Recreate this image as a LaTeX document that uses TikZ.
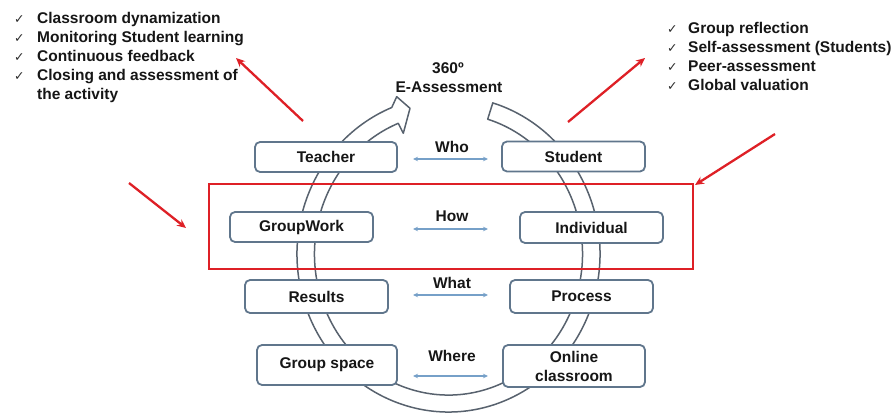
\documentclass[tikz,border=0pt]{standalone}
\usepackage{fontspec}
\setmainfont{Liberation Sans}
\newfontfamily\symfont{DejaVu Sans}
\usetikzlibrary{arrows.meta}
\definecolor{boxline}{RGB}{96,118,140}
\definecolor{ringline}{RGB}{88,98,110}
\definecolor{linkblue}{RGB}{118,160,200}
\definecolor{alertred}{RGB}{222,32,38}
\definecolor{ink}{RGB}{22,22,22}
\definecolor{tick}{RGB}{45,45,45}

\begin{document}
\begin{tikzpicture}[x=1pt,y=1pt,
  every node/.style={inner sep=0pt, text=ink},
  lbl/.style={font=\fontsize{15.5}{19}\selectfont\bfseries},
  tickmark/.style={font=\fontsize{12.5}{14}\selectfont\symfont, text=tick},
  card/.style={draw=boxline, fill=white, line width=1.8pt, rounded corners=5pt,
    align=center, font=\fontsize{15.5}{19}\selectfont\bfseries},
  ring/.style={draw=ringline, fill=white, line width=1.5pt, line join=round},
  link/.style={draw=linkblue, line width=1.3pt,
    {Stealth[length=5pt,width=4.5pt]}-{Stealth[length=5pt,width=4.5pt]}},
  pointer/.style={draw=alertred, line width=2.3pt, -{Stealth[length=9pt,width=8pt]}},
]
\useasboundingbox (0,0) rectangle (894,-414);

% circular arrow around the cards
\draw[ring] (448.5,-254) ++(73:151.5pt and 158pt)
  arc[start angle=73, end angle=-248, x radius=151.5pt, y radius=158pt]
  -- (396.7,-96.7) -- (410,-108.3) -- (403.3,-133.3) -- (398.3,-123.3)
  arc[start angle=-248, end angle=73, x radius=134pt, y radius=141pt]
  -- cycle;

% title
\node[lbl, anchor=base] (deg) at (448,-74) {360º};
\node[lbl, anchor=base] (eassess) at (449,-93) {E-Assessment};

% cards
\node[card, minimum width=142pt, minimum height=30pt] (teacher) at (326,-157) {Teacher};
\node[card, minimum width=143pt, minimum height=30pt] (student) at (573.5,-156.5) {Student};
\node[card, minimum width=143pt, minimum height=30pt] (groupwork) at (301.5,-227) {GroupWork};
\node[card, minimum width=143pt, minimum height=31pt] (individual) at (591.5,-227.5) {Individual};
\node[card, minimum width=143pt, minimum height=33pt] (results) at (316.5,-296.5) {Results};
\node[card, minimum width=143pt, minimum height=33pt] (process) at (581.5,-296.5) {Process};
\node[card, minimum width=140pt, minimum height=40pt] (groupspace) at (327,-365) {Group space};
\node[card, minimum width=142pt, minimum height=42pt] (online) at (574,-366) {Online\\classroom};

% question labels and two-way links
\foreach \q/\y/\b in {Who/159/152.5, How/229/222, What/295/288, Where/376/361}{
  \node[lbl, anchor=base] (q\q) at (452,-\b) {\q};
  \coordinate (a\q) at (413,-\y);
  \coordinate (b\q) at (488,-\y);
  \draw[link] (a\q) -- (b\q);
}

% highlight frame
\draw[alertred, line width=1.8pt] (209,-184) rectangle (693,-269);

% red pointers
\coordinate (p1s) at (303,-121); \coordinate (p1e) at (236,-58);
\coordinate (p2s) at (568,-122); \coordinate (p2e) at (645,-58);
\coordinate (p3s) at (129,-183); \coordinate (p3e) at (186,-228);
\coordinate (p4s) at (775,-134); \coordinate (p4e) at (695,-185);
\draw[pointer] (p1s) -- (p1e);
\draw[pointer] (p2s) -- (p2e);
\draw[pointer] (p3s) -- (p3e);
\draw[pointer] (p4s) -- (p4e);

% teacher tasks
\foreach \t [count=\i] in {Classroom dynamization, Monitoring Student learning,
    Continuous feedback, Closing and assessment of}{
  \node[tickmark, anchor=base west] (lc\i) at (14,{-23.5-19*(\i-1)}) {✓};
  \node[lbl, anchor=base west] (lt\i) at (37,{-23.5-19*(\i-1)}) {\t};
}
\node[lbl, anchor=base west] (lt5) at (37,-99.5) {the activity};

% student tasks
\foreach \t [count=\i] in {Group reflection, Self-assessment (Students),
    Peer-assessment, Global valuation}{
  \node[tickmark, anchor=base west] (rc\i) at (667,{-33.3-19*(\i-1)}) {✓};
  \node[lbl, anchor=base west] (rt\i) at (688,{-33.3-19*(\i-1)}) {\t};
}
\end{tikzpicture}
\end{document}
